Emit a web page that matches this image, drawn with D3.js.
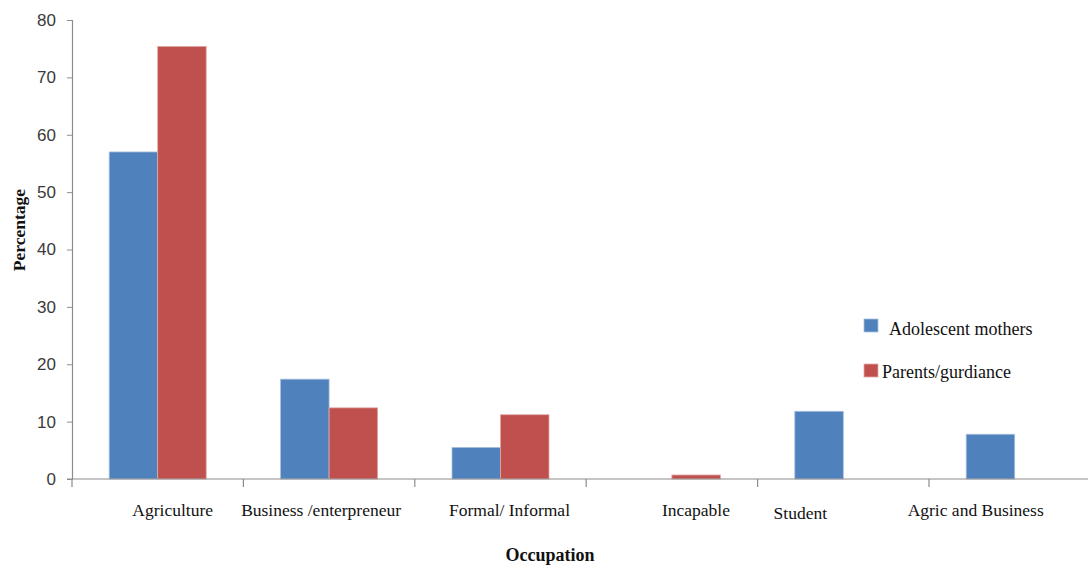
<!DOCTYPE html>
<html>
<head>
<meta charset="utf-8">
<script src="https://cdn.jsdelivr.net/npm/d3@7"></script>
<style>
  html, body { margin: 0; padding: 0; background: #fff; }
  svg { display: block; }
</style>
</head>
<body>
<svg id="chart" width="1088" height="567"></svg>
<script>
// Occupation of respondents (%)
const categories = ["Agriculture", "Business /enterpreneur", "Formal/ Informal", "Incapable", "Student", "Agric and Business"];
const seriesNames = ["Adolescent mothers", "Parents/gurdiance"];
const adolescentMothers = [57, 17.4, 5.5, 0, 11.8, 7.8];
const parentsGuardians = [75.4, 12.4, 11.2, 0.7, 0, 0];
const yTicks = [0, 10, 20, 30, 40, 50, 60, 70, 80];
const colors = ["#4F81BD", "#C0504D"];
const strokes = ["#A7C0DE", "#E0A8A6"];

// label nudges relative to each category's centre
const labelDx = [15, -8, 9, 24, -43, -39];
const labelDy = [0, 0, 0, 0, 3, 0];

const svg = d3.select("#chart");
const m = { left: 72, top: 20, bottom: 479 };
const bandW = 171.4;
const plotRight = m.left + bandW * categories.length;

const x = d3.scaleBand().domain(categories).range([m.left, plotRight]).paddingInner(0).paddingOuter(0);
const x1 = d3.scaleBand().domain(seriesNames).range([0, x.bandwidth()]).paddingInner(0).paddingOuter(0.767);
const y = d3.scaleLinear().domain([0, 80]).range([m.bottom, m.top]);

const rows = categories.map((c, i) => ({ cat: c, vals: [adolescentMothers[i], parentsGuardians[i]] }));

// bars
const g = svg.append("g");
rows.forEach(r => {
  r.vals.forEach((v, k) => {
    if (v <= 0) return;
    g.append("rect")
      .attr("x", x(r.cat) + x1(seriesNames[k]))
      .attr("y", y(v))
      .attr("width", x1.bandwidth())
      .attr("height", y(0) - y(v))
      .attr("fill", colors[k])
      .attr("stroke", strokes[k])
      .attr("stroke-width", 0.8);
  });
});

// y axis
const yAxis = d3.axisLeft(y).tickValues(yTicks).tickSize(5).tickPadding(11).tickFormat(d3.format("d"));
const ya = svg.append("g").attr("transform", `translate(${m.left},0)`).call(yAxis);
ya.select(".domain").attr("stroke", "#8c8c8c").attr("stroke-width", 1.2);
ya.selectAll(".tick line").attr("stroke", "#8c8c8c");
ya.selectAll(".tick text")
  .attr("font-family", "'Liberation Sans', Arial, sans-serif")
  .attr("font-size", 17)
  .attr("fill", "#3a3a3a");

// x axis baseline and category separators
const xa = svg.append("g");
xa.append("line")
  .attr("x1", m.left - 5).attr("x2", plotRight)
  .attr("y1", y(0)).attr("y2", y(0))
  .attr("stroke", "#8c8c8c").attr("stroke-width", 1.2);
const bounds = categories.map(c => x(c)).concat([plotRight]);
xa.selectAll("line.sep").data(bounds).enter().append("line")
  .attr("class", "sep")
  .attr("x1", d => d).attr("x2", d => d)
  .attr("y1", y(0)).attr("y2", y(0) + 8)
  .attr("stroke", "#8c8c8c").attr("stroke-width", 1.2);

// category labels
xa.selectAll("text.cat").data(categories).enter().append("text")
  .attr("class", "cat")
  .attr("x", (d, i) => x(d) + x.bandwidth() / 2 + labelDx[i])
  .attr("y", (d, i) => 516 + labelDy[i])
  .attr("text-anchor", "middle")
  .attr("font-family", "'Liberation Serif', 'Times New Roman', serif")
  .attr("font-size", 17.5)
  .attr("fill", "#111")
  .text(d => d);

// axis titles
svg.append("text")
  .attr("transform", "translate(25,230) rotate(-90)")
  .attr("text-anchor", "middle")
  .attr("font-family", "'Liberation Serif', 'Times New Roman', serif")
  .attr("font-weight", "bold")
  .attr("font-size", 17.5)
  .attr("fill", "#111")
  .text("Percentage");

svg.append("text")
  .attr("x", 550).attr("y", 561)
  .attr("text-anchor", "middle")
  .attr("font-family", "'Liberation Serif', 'Times New Roman', serif")
  .attr("font-weight", "bold")
  .attr("font-size", 18)
  .attr("fill", "#111")
  .text("Occupation");

// legend
const legend = svg.append("g");
const legendItems = [
  { name: seriesNames[0], color: colors[0], stroke: strokes[0], sy: 319, tx: 889, ty: 335 },
  { name: seriesNames[1], color: colors[1], stroke: strokes[1], sy: 364, tx: 882, ty: 378 }
];
legendItems.forEach(it => {
  legend.append("rect")
    .attr("x", 864).attr("y", it.sy).attr("width", 14).attr("height", 13)
    .attr("fill", it.color).attr("stroke", it.stroke).attr("stroke-width", 0.8);
  legend.append("text")
    .attr("x", it.tx).attr("y", it.ty)
    .attr("font-family", "'Liberation Serif', 'Times New Roman', serif")
    .attr("font-size", 18)
    .attr("fill", "#111")
    .text(it.name);
});
</script>
</body>
</html>
